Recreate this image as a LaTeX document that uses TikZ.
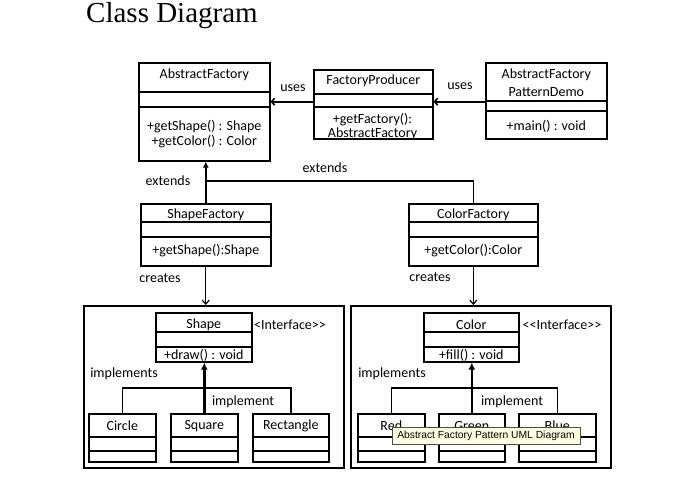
\documentclass[tikz,border=0pt]{standalone}
\usepackage{fontspec}
\setmainfont{Carlito}
\newfontfamily\titlefont{Liberation Serif}
\newfontfamily\tipfont{Liberation Sans}
\usetikzlibrary{arrows.meta}
\tikzset{
  classbox/.style={draw, line width=1.6pt, inner sep=0pt, anchor=north west},
  member/.style={inner sep=0pt, font=\fontsize{14}{16}\selectfont},
  tag/.style={inner sep=0pt, font=\fontsize{14}{16}\selectfont},
  divider/.style={line width=1.1pt},
  uses/.style={line width=1.6pt, -{Straight Barb[length=3pt,width=7pt]}},
  extends/.style={line width=1.6pt, -{Latex[length=6pt,width=6pt]}},
  creates/.style={line width=1.2pt, -{Straight Barb[length=4pt,width=7pt]}},
  realizes/.style={line width=2.6pt, -{Latex[length=7pt,width=7pt]}},
  link/.style={line width=1.4pt},
  tooltip/.style={draw=black!70, line width=0.5pt, fill={rgb,255:red,255;green,255;blue,225}, inner sep=0pt, font=\tipfont\fontsize{10.3}{12}\selectfont},
}
\begin{document}
\begin{tikzpicture}[x=1pt,y=-1pt]
  \useasboundingbox[fill=white] (0,0) rectangle (695,491);
  \node[anchor=base west, inner sep=0pt, font=\titlefont\fontsize{29}{31}\selectfont] (title) at (86,22) {Class Diagram};

  \node[classbox, minimum width=131pt, minimum height=98pt] (af) at (138,62) {};
  \draw[divider] (af.west |- 0,92) -- (af.east |- 0,92);
  \draw[divider] (af.west |- 0,107) -- (af.east |- 0,107);
  \node[member] (afname) at (af.north |- 0,75) {AbstractFactory};
  \node[member] (afshape) at (af.north |- 0,127) {+getShape() : Shape};
  \node[member] (afcolor) at (af.north |- 0,142) {+getColor() : Color};

  \node[member] (fpm1) at (372.5,120) {+getFactory():};
  \node[member] (fpm2) at (372.5,134) {AbstractFactory};
  \node[classbox, minimum width=119pt, minimum height=69pt] (fp) at (313,69) {};
  \draw[divider] (fp.west |- 0,94) -- (fp.east |- 0,94);
  \draw[divider] (fp.west |- 0,107) -- (fp.east |- 0,107);
  \node[member] (fpname) at (fp.north |- 0,81) {FactoryProducer};

  \node[classbox, minimum width=121pt, minimum height=76pt] (demo) at (485,62) {};
  \draw[divider] (demo.west |- 0,101) -- (demo.east |- 0,101);
  \draw[divider] (demo.west |- 0,111) -- (demo.east |- 0,111);
  \node[member] (demoname1) at (demo.north |- 0,75) {AbstractFactory};
  \node[member] (demoname2) at (demo.north |- 0,92) {PatternDemo};
  \node[member] (demomain) at (demo.north |- 0,126) {+main() : void};

  \draw[uses] (fp.west |- 0,101.7) -- (af.east |- 0,101.7);
  \draw[uses] (demo.west |- 0,101.7) -- (fp.east |- 0,101.7);
  \node[tag] (uses1) at (293,88) {uses};
  \node[tag] (uses2) at (460,86) {uses};

  \node[classbox, minimum width=130pt, minimum height=62pt] (sf) at (140,203) {};
  \draw[divider] (sf.west |- 0,222) -- (sf.east |- 0,222);
  \draw[divider] (sf.west |- 0,237) -- (sf.east |- 0,237);
  \node[member] (sfname) at (sf.north |- 0,215) {ShapeFactory};
  \node[member] (sfshape) at (sf.north |- 0,251) {+getShape():Shape};

  \node[classbox, minimum width=129pt, minimum height=62pt] (cf) at (408,203) {};
  \draw[divider] (cf.west |- 0,222) -- (cf.east |- 0,222);
  \draw[divider] (cf.west |- 0,237) -- (cf.east |- 0,237);
  \node[member] (cfname) at (cf.north |- 0,215) {ColorFactory};
  \node[member] (cfcolor) at (cf.north |- 0,251) {+getColor():Color};

  \coordinate (ext) at (sf.north |- 0,181);
  \draw[extends] (sf.north) -- (sf.north |- af.south);
  \draw[link] (cf.north) |- (ext);
  \node[tag] (ext1) at (168,181) {extends};
  \node[tag] (ext2) at (325,168) {extends};

  \node[classbox, minimum width=260pt, minimum height=162pt] (pkgs) at (83,305) {};
  \node[classbox, minimum width=260pt, minimum height=162pt] (pkgc) at (350,305) {};
  \draw[creates] (sf.south) -- (sf.south |- pkgs.north);
  \draw[creates] (cf.south) -- (cf.south |- pkgc.north);
  \node[tag] (creates1) at (160,278) {creates};
  \node[tag] (creates2) at (430,277) {creates};

  \node[classbox, minimum width=96pt, minimum height=49pt] (shape) at (155,312) {};
  \draw[divider] (shape.west |- 0,332) -- (shape.east |- 0,332);
  \draw[divider] (shape.west |- 0,347) -- (shape.east |- 0,347);
  \node[member] (shapename) at (shape.north |- 0,325) {Shape};
  \node[member] (shapedraw) at (shape.north |- 0,355) {+draw() : void};
  \node[tag] (shapeif) at (290,325) {<Interface>\kern0pt>};

  \node[classbox, minimum width=95pt, minimum height=49pt] (color) at (423,312) {};
  \draw[divider] (color.west |- 0,332) -- (color.east |- 0,332);
  \draw[divider] (color.west |- 0,347) -- (color.east |- 0,347);
  \node[member] (colorname) at (color.north |- 0,325) {Color};
  \node[member] (colorfill) at (color.north |- 0,355) {+fill() : void};
  \node[tag] (colorif) at (562,325) {<\kern0pt<Interface>\kern0pt>};

  \foreach \cname/\cx/\cw/\ctext in {circle/88/67/Circle, square/170/67/Square, rect/252/76/Rectangle,
                                      red/357/67/Red, green/438/66/Green, blue/518/77/Blue} {
    \node[classbox, minimum width=\cw pt, minimum height=48pt] (\cname) at (\cx,413) {};
    \draw[divider] (\cname.west |- 0,437) -- (\cname.east |- 0,437);
    \draw[divider] (\cname.west |- 0,451) -- (\cname.east |- 0,451);
    \node[member] (\cname name) at (\cname.north |- 0,426) {\ctext};
  }

  \coordinate (jshape) at (square.north |- 0,388);
  \draw[realizes] (square.north) -- (square.north |- shape.south);
  \draw[link] (circle.north) |- (jshape) -| (rect.north);
  \node[tag] (impl1) at (124,374) {implements};
  \node[tag] (impl2) at (243,402) {implement};

  \coordinate (jcolor) at (green.north |- 0,388);
  \draw[realizes] (green.north) -- (green.north |- color.south);
  \draw[link] (red.north) |- (jcolor) -| (blue.north);
  \node[tag] (impl3) at (392,374) {implements};
  \node[tag] (impl4) at (512,402) {implement};

  \node[tooltip, minimum width=188pt, minimum height=17pt] (tip) at (486,435.5) {Abstract Factory Pattern UML Diagram};
\end{tikzpicture}
\end{document}
